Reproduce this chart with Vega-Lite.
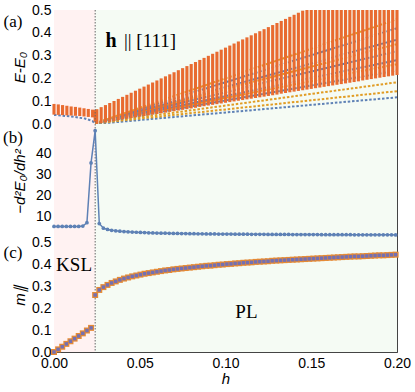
{
"$schema": "https://vega.github.io/schema/vega-lite/v6.json",
"background": "white",
"padding": {"left": 2, "top": 2, "right": 2, "bottom": 2},
"spacing": 0,
"bounds": "flush",
"config": {
  "view": {"stroke": "#444", "strokeWidth": 1},
  "font": "Liberation Sans",
  "axis": {"labelFont": "Liberation Sans", "labelFontSize": 14, "labelColor": "#000", "tickColor": "#444", "tickSize": -4.5, "tickCount": 30, "domain": false, "grid": false, "titleFont": "Liberation Sans", "titleFontStyle": "italic", "titleFontWeight": "normal", "titleFontSize": 15, "titleColor": "#000", "labelPadding": 7.5, "labelFlush": false, "labelOverlap": false}
},
"datasets": {
  "regions": [{"x1": 0, "x2": 0.024, "phase": "KSL"}, {"x1": 0.024, "x2": 0.2, "phase": "PL"}],
  "vline": [{"h": 0.024}],
  "bands": [
    {"h":0,"lo":0.041,"hi":0.088},{"h":0.0025,"lo":0.040,"hi":0.086},{"h":0.005,"lo":0.039,"hi":0.083},{"h":0.0075,"lo":0.038,"hi":0.080},{"h":0.01,"lo":0.037,"hi":0.077},{"h":0.0125,"lo":0.036,"hi":0.075},{"h":0.015,"lo":0.035,"hi":0.072},{"h":0.0175,"lo":0.033,"hi":0.069},{"h":0.02,"lo":0.031,"hi":0.066},{"h":0.0225,"lo":0.029,"hi":0.063},{"h":0.024,"lo":0.01,"hi":0.061},
    {"h":0.025,"lo":0.001,"hi":0.065},{"h":0.0275,"lo":0.004,"hi":0.074},{"h":0.03,"lo":0.007,"hi":0.083},{"h":0.0325,"lo":0.010,"hi":0.092},{"h":0.035,"lo":0.013,"hi":0.101},{"h":0.0375,"lo":0.017,"hi":0.110},{"h":0.04,"lo":0.020,"hi":0.119},{"h":0.0425,"lo":0.023,"hi":0.128},{"h":0.045,"lo":0.026,"hi":0.137},{"h":0.0475,"lo":0.029,"hi":0.146},
    {"h":0.05,"lo":0.032,"hi":0.155},{"h":0.0525,"lo":0.035,"hi":0.164},{"h":0.055,"lo":0.038,"hi":0.173},{"h":0.0575,"lo":0.041,"hi":0.182},{"h":0.06,"lo":0.044,"hi":0.191},{"h":0.0625,"lo":0.047,"hi":0.200},{"h":0.065,"lo":0.050,"hi":0.209},{"h":0.0675,"lo":0.053,"hi":0.218},{"h":0.07,"lo":0.056,"hi":0.227},{"h":0.0725,"lo":0.059,"hi":0.236},
    {"h":0.075,"lo":0.062,"hi":0.245},{"h":0.0775,"lo":0.065,"hi":0.254},{"h":0.08,"lo":0.068,"hi":0.263},{"h":0.0825,"lo":0.071,"hi":0.272},{"h":0.085,"lo":0.075,"hi":0.281},{"h":0.0875,"lo":0.078,"hi":0.290},{"h":0.09,"lo":0.081,"hi":0.299},{"h":0.0925,"lo":0.084,"hi":0.308},{"h":0.095,"lo":0.087,"hi":0.317},{"h":0.0975,"lo":0.090,"hi":0.326},
    {"h":0.1,"lo":0.093,"hi":0.335},{"h":0.1025,"lo":0.096,"hi":0.344},{"h":0.105,"lo":0.099,"hi":0.353},{"h":0.1075,"lo":0.102,"hi":0.362},{"h":0.11,"lo":0.105,"hi":0.371},{"h":0.1125,"lo":0.108,"hi":0.380},{"h":0.115,"lo":0.111,"hi":0.389},{"h":0.1175,"lo":0.114,"hi":0.398},{"h":0.12,"lo":0.117,"hi":0.407},{"h":0.1225,"lo":0.120,"hi":0.416},
    {"h":0.125,"lo":0.123,"hi":0.425},{"h":0.1275,"lo":0.126,"hi":0.434},{"h":0.13,"lo":0.129,"hi":0.443},{"h":0.1325,"lo":0.133,"hi":0.452},{"h":0.135,"lo":0.136,"hi":0.461},{"h":0.1375,"lo":0.139,"hi":0.470},{"h":0.14,"lo":0.142,"hi":0.479},{"h":0.1425,"lo":0.145,"hi":0.488},{"h":0.145,"lo":0.148,"hi":0.497},{"h":0.1475,"lo":0.151,"hi":0.5},
    {"h":0.15,"lo":0.154,"hi":0.5},{"h":0.1525,"lo":0.157,"hi":0.5},{"h":0.155,"lo":0.160,"hi":0.5},{"h":0.1575,"lo":0.163,"hi":0.5},{"h":0.16,"lo":0.166,"hi":0.5},{"h":0.1625,"lo":0.169,"hi":0.5},{"h":0.165,"lo":0.172,"hi":0.5},{"h":0.1675,"lo":0.175,"hi":0.5},{"h":0.17,"lo":0.178,"hi":0.5},{"h":0.1725,"lo":0.181,"hi":0.5},
    {"h":0.175,"lo":0.184,"hi":0.5},{"h":0.1775,"lo":0.187,"hi":0.5},{"h":0.18,"lo":0.191,"hi":0.5},{"h":0.1825,"lo":0.194,"hi":0.5},{"h":0.185,"lo":0.197,"hi":0.5},{"h":0.1875,"lo":0.200,"hi":0.5},{"h":0.19,"lo":0.203,"hi":0.5},{"h":0.1925,"lo":0.206,"hi":0.5},{"h":0.195,"lo":0.209,"hi":0.5},{"h":0.1975,"lo":0.212,"hi":0.5},{"h":0.2,"lo":0.215,"hi":0.5}
  ],
  "levels": [
    {"s":"b1","kind":"b","h":0,"v":0.04},{"s":"b1","kind":"b","h":0.01,"v":0.033},{"s":"b1","kind":"b","h":0.018,"v":0.024},{"s":"b1","kind":"b","h":0.0225,"v":0.013},{"s":"b1","kind":"b","h":0.024,"v":0.0},{"s":"b1","kind":"b","h":0.2,"v":0.117},
    {"s":"o1","kind":"o","h":0.024,"v":0.003},{"s":"o1","kind":"o","h":0.2,"v":0.144},
    {"s":"o2","kind":"o","h":0.024,"v":0.003},{"s":"o2","kind":"o","h":0.2,"v":0.183},
    {"s":"b2","kind":"b","h":0.024,"v":0.003},{"s":"b2","kind":"b","h":0.2,"v":0.235},
    {"s":"o3","kind":"o","h":0.024,"v":0.003},{"s":"o3","kind":"o","h":0.2,"v":0.262},
    {"s":"b3","kind":"b","h":0.024,"v":0.003},{"s":"b3","kind":"b","h":0.2,"v":0.28},
    {"s":"b4","kind":"b","h":0.024,"v":0.003},{"s":"b4","kind":"b","h":0.2,"v":0.32},
    {"s":"o4","kind":"o","h":0.024,"v":0.003},{"s":"o4","kind":"o","h":0.2,"v":0.35},
    {"s":"b5","kind":"b","h":0.024,"v":0.003},{"s":"b5","kind":"b","h":0.2,"v":0.37},
    {"s":"b6","kind":"b","h":0.024,"v":0.003},{"s":"b6","kind":"b","h":0.2,"v":0.42},
    {"s":"o5","kind":"o","h":0.024,"v":0.003},{"s":"o5","kind":"o","h":0.2,"v":0.46}
  ],
  "series": [
    {"h":0,"b":5.0,"m":0},{"h":0.0024,"b":5.0,"m":0.012},{"h":0.0048,"b":5.0,"m":0.024},{"h":0.0072,"b":5.0,"m":0.037},{"h":0.0096,"b":5.0,"m":0.049},{"h":0.012,"b":5.0,"m":0.061},{"h":0.0144,"b":5.0,"m":0.073},{"h":0.0168,"b":5.2,"m":0.085},{"h":0.0192,"b":6.8,"m":0.098},{"h":0.0216,"b":35.4,"m":0.11},
    {"h":0.024,"b":50.8,"m":0.26},{"h":0.0264,"b":6.4,"m":0.283},{"h":0.0288,"b":4.2,"m":0.296},{"h":0.0312,"b":3.6,"m":0.306},{"h":0.0336,"b":3.2,"m":0.315},{"h":0.036,"b":2.95,"m":0.322},{"h":0.0384,"b":2.75,"m":0.329},{"h":0.0408,"b":2.6,"m":0.335},{"h":0.0432,"b":2.45,"m":0.340},{"h":0.0456,"b":2.35,"m":0.345},
    {"h":0.048,"b":2.25,"m":0.349},{"h":0.0504,"b":2.15,"m":0.353},{"h":0.0528,"b":2.07,"m":0.357},{"h":0.0552,"b":2.0,"m":0.360},{"h":0.0576,"b":1.94,"m":0.363},{"h":0.06,"b":1.88,"m":0.366},{"h":0.0624,"b":1.83,"m":0.369},{"h":0.0648,"b":1.78,"m":0.372},{"h":0.0672,"b":1.74,"m":0.374},{"h":0.0696,"b":1.70,"m":0.377},
    {"h":0.072,"b":1.66,"m":0.379},{"h":0.0744,"b":1.63,"m":0.381},{"h":0.0768,"b":1.60,"m":0.383},{"h":0.0792,"b":1.57,"m":0.385},{"h":0.0816,"b":1.54,"m":0.387},{"h":0.084,"b":1.52,"m":0.389},{"h":0.0864,"b":1.49,"m":0.391},{"h":0.0888,"b":1.47,"m":0.393},{"h":0.0912,"b":1.45,"m":0.394},{"h":0.0936,"b":1.43,"m":0.396},
    {"h":0.096,"b":1.41,"m":0.398},{"h":0.0984,"b":1.39,"m":0.399},{"h":0.1008,"b":1.37,"m":0.401},{"h":0.1032,"b":1.36,"m":0.402},{"h":0.1056,"b":1.34,"m":0.404},{"h":0.108,"b":1.33,"m":0.405},{"h":0.1104,"b":1.31,"m":0.407},{"h":0.1128,"b":1.30,"m":0.408},{"h":0.1152,"b":1.28,"m":0.409},{"h":0.1176,"b":1.27,"m":0.411},
    {"h":0.12,"b":1.26,"m":0.412},{"h":0.1224,"b":1.25,"m":0.413},{"h":0.1248,"b":1.23,"m":0.414},{"h":0.1272,"b":1.22,"m":0.416},{"h":0.1296,"b":1.21,"m":0.417},{"h":0.132,"b":1.20,"m":0.418},{"h":0.1344,"b":1.19,"m":0.419},{"h":0.1368,"b":1.18,"m":0.420},{"h":0.1392,"b":1.17,"m":0.421},{"h":0.1416,"b":1.16,"m":0.422},
    {"h":0.144,"b":1.15,"m":0.423},{"h":0.1464,"b":1.14,"m":0.424},{"h":0.1488,"b":1.13,"m":0.425},{"h":0.1512,"b":1.13,"m":0.426},{"h":0.1536,"b":1.12,"m":0.427},{"h":0.156,"b":1.11,"m":0.428},{"h":0.1584,"b":1.10,"m":0.429},{"h":0.1608,"b":1.09,"m":0.430},{"h":0.1632,"b":1.09,"m":0.431},{"h":0.1656,"b":1.08,"m":0.432},
    {"h":0.168,"b":1.07,"m":0.433},{"h":0.1704,"b":1.06,"m":0.434},{"h":0.1728,"b":1.06,"m":0.435},{"h":0.1752,"b":1.05,"m":0.436},{"h":0.1776,"b":1.04,"m":0.436},{"h":0.18,"b":1.04,"m":0.437},{"h":0.1824,"b":1.03,"m":0.438},{"h":0.1848,"b":1.02,"m":0.439},{"h":0.1872,"b":1.02,"m":0.440},{"h":0.1896,"b":1.01,"m":0.441},
    {"h":0.192,"b":1.01,"m":0.441},{"h":0.1944,"b":1.00,"m":0.442},{"h":0.1968,"b":1.00,"m":0.443},{"h":0.1992,"b":0.99,"m":0.444}
  ]
},
"vconcat": [
  {
    "width": 343, "height": 114,
    "resolve": {"scale": {"color": "independent"}},
    "layer": [
      {"data": {"name": "regions"}, "mark": {"type": "rect"},
       "encoding": {"x": {"field": "x1", "type": "quantitative", "scale": {"domain": [0, 0.2], "nice": false, "zero": false}, "axis": {"values": [0, 0.05, 0.1, 0.15, 0.2], "tickCount": 30, "labels": false, "title": null}},
                    "x2": {"field": "x2"},
                    "color": {"field": "phase", "type": "nominal", "scale": {"domain": ["KSL", "PL"], "range": ["#FFF2F2", "#F5FBF4"]}, "legend": null}}},
      {"data": {"name": "levels"}, "mark": {"type": "line", "strokeWidth": 2, "strokeDash": [2.5, 1.8], "clip": true},
       "encoding": {"x": {"field": "h", "type": "quantitative"},
                    "y": {"field": "v", "type": "quantitative", "scale": {"domain": [0, 0.5], "nice": false}, "axis": {"values": [0, 0.1, 0.2, 0.3, 0.4, 0.5], "tickCount": 30, "format": ".1f", "labelOverlap": false, "title": "E-E₀", "titleX": -35, "titleY": 57, "titleBaseline": "middle"}},
                    "detail": {"field": "s"},
                    "color": {"field": "kind", "type": "nominal", "scale": {"domain": ["b", "o"], "range": ["#5E81B5", "#E19C24"]}, "legend": null}}},
      {"data": {"name": "bands"}, "mark": {"type": "rule", "strokeWidth": 3.1, "color": "#E86B30"},
       "encoding": {"x": {"field": "h", "type": "quantitative"},
                    "y": {"field": "lo", "type": "quantitative"},
                    "y2": {"field": "hi"}}},
      {"data": {"name": "vline"}, "mark": {"type": "rule", "strokeDash": [1.5, 1.5], "color": "#666", "strokeWidth": 1},
       "encoding": {"x": {"field": "h", "type": "quantitative"}}},
      {"data": {"values": [{"h": 0.0332, "v": 0.363, "t": "h"}]}, "mark": {"type": "text", "font": "Liberation Serif", "fontSize": 20, "fontWeight": "bold", "baseline": "middle", "align": "center"},
       "encoding": {"x": {"field": "h", "type": "quantitative"}, "y": {"field": "v", "type": "quantitative"}, "text": {"field": "t"}}},
      {"data": {"values": [{"h": 0.0408, "v": 0.363, "t": "|| [111]"}]}, "mark": {"type": "text", "font": "Liberation Serif", "fontSize": 19, "baseline": "middle", "align": "left"},
       "encoding": {"x": {"field": "h", "type": "quantitative"}, "y": {"field": "v", "type": "quantitative"}, "text": {"field": "t"}}},
      {"data": {"values": [{"h": -0.0239, "v": 0.446, "t": "(a)"}]}, "mark": {"type": "text", "font": "Liberation Serif", "fontSize": 17, "baseline": "middle", "align": "center"},
       "encoding": {"x": {"field": "h", "type": "quantitative"}, "y": {"field": "v", "type": "quantitative"}, "text": {"field": "t"}}}
    ]
  },
  {
    "width": 343, "height": 114,
    "layer": [
      {"data": {"name": "regions"}, "mark": {"type": "rect"},
       "encoding": {"x": {"field": "x1", "type": "quantitative", "scale": {"domain": [0, 0.2], "nice": false, "zero": false}, "axis": {"values": [0, 0.05, 0.1, 0.15, 0.2], "tickCount": 30, "labels": false, "title": null}},
                    "x2": {"field": "x2"},
                    "color": {"field": "phase", "type": "nominal", "scale": {"domain": ["KSL", "PL"], "range": ["#FFF2F2", "#F5FBF4"]}, "legend": null}}},
      {"data": {"name": "vline"}, "mark": {"type": "rule", "strokeDash": [1.5, 1.5], "color": "#666", "strokeWidth": 1},
       "encoding": {"x": {"field": "h", "type": "quantitative"}}},
      {"data": {"name": "series"}, "mark": {"type": "line", "color": "#5E81B5", "strokeWidth": 1.5, "point": {"filled": true, "size": 14, "color": "#5E81B5"}},
       "encoding": {"x": {"field": "h", "type": "quantitative"},
                    "y": {"field": "b", "type": "quantitative", "scale": {"domain": [-0.5, 54], "nice": false, "zero": false}, "axis": {"values": [10, 20, 30, 40], "tickCount": 30, "labelOverlap": false, "title": "−d²E₀/dh²", "titleX": -35, "titleY": 57, "titleBaseline": "middle"}}}},
      {"data": {"values": [{"h": -0.0239, "v": 47.3, "t": "(b)"}]}, "mark": {"type": "text", "font": "Liberation Serif", "fontSize": 17, "baseline": "middle", "align": "center"},
       "encoding": {"x": {"field": "h", "type": "quantitative"}, "y": {"field": "v", "type": "quantitative"}, "text": {"field": "t"}}}
    ]
  },
  {
    "width": 343, "height": 114,
    "layer": [
      {"data": {"name": "regions"}, "mark": {"type": "rect"},
       "encoding": {"x": {"field": "x1", "type": "quantitative", "scale": {"domain": [0, 0.2], "nice": false, "zero": false}, "axis": {"values": [0, 0.05, 0.1, 0.15, 0.2], "tickCount": 30, "format": ".2f", "title": "h", "titlePadding": 1, "labelPadding": 8.5}},
                    "x2": {"field": "x2"},
                    "color": {"field": "phase", "type": "nominal", "scale": {"domain": ["KSL", "PL"], "range": ["#FFF2F2", "#F5FBF4"]}, "legend": null}}},
      {"data": {"name": "vline"}, "mark": {"type": "rule", "strokeDash": [1.5, 1.5], "color": "#666", "strokeWidth": 1},
       "encoding": {"x": {"field": "h", "type": "quantitative"}}},
      {"data": {"name": "series"}, "mark": {"type": "point", "shape": "square", "filled": true, "size": 36, "color": "#E58A35", "opacity": 1},
       "encoding": {"x": {"field": "h", "type": "quantitative"},
                    "y": {"field": "m", "type": "quantitative", "scale": {"domain": [0, 0.52], "nice": false}, "axis": {"values": [0, 0.1, 0.2, 0.3, 0.4, 0.5], "tickCount": 30, "format": ".1f", "labelOverlap": false, "title": "m∥", "titleX": -35, "titleY": 57, "titleBaseline": "middle"}}}},
      {"data": {"name": "series"}, "mark": {"type": "point", "shape": "square", "filled": true, "size": 12, "color": "#7470B2", "opacity": 1},
       "encoding": {"x": {"field": "h", "type": "quantitative"}, "y": {"field": "m", "type": "quantitative"}}},
      {"data": {"values": [{"h": 0.0117, "v": 0.396, "t": "KSL"}, {"h": 0.1122, "v": 0.182, "t": "PL"}]}, "mark": {"type": "text", "font": "Liberation Serif", "fontSize": 19, "baseline": "middle", "align": "center"},
       "encoding": {"x": {"field": "h", "type": "quantitative"}, "y": {"field": "v", "type": "quantitative"}, "text": {"field": "t"}}},
      {"data": {"values": [{"h": -0.0239, "v": 0.452, "t": "(c)"}]}, "mark": {"type": "text", "font": "Liberation Serif", "fontSize": 17, "baseline": "middle", "align": "center"},
       "encoding": {"x": {"field": "h", "type": "quantitative"}, "y": {"field": "v", "type": "quantitative"}, "text": {"field": "t"}}}
    ]
  }
]
}
